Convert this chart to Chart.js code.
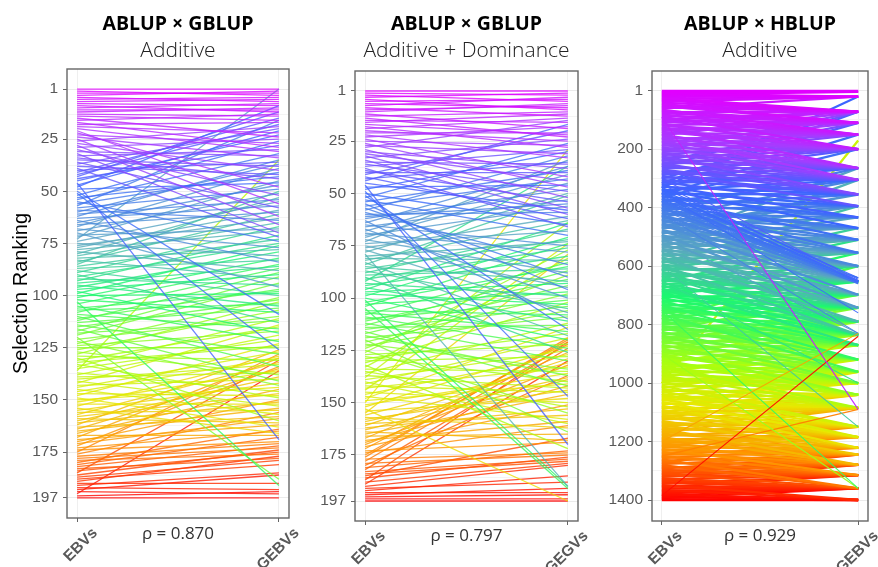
<!DOCTYPE html>
<html>
<head>
<meta charset="utf-8">
<style>
html, body { margin: 0; padding: 0; background: #fff; }
body { width: 878px; height: 567px; position: relative; overflow: hidden; }
canvas { position: absolute; top: 0; }
</style>
<script src="https://cdn.jsdelivr.net/npm/chart.js@4/dist/chart.umd.min.js"></script>
</head>
<body>
<canvas id="chart1" width="310" height="567" style="left:0"></canvas>
<canvas id="chart2" width="305" height="567" style="left:305px"></canvas>
<canvas id="chart3" width="273" height="567" style="left:605px"></canvas>
<script>
// ranks: left axis rank -> right axis rank
var ebv197 = [
	1,2,3,4,5,6,7,8,9,10,11,12,13,14,15,16,17,18,19,20,
	21,22,23,24,25,26,27,28,29,30,31,32,33,34,35,36,37,38,39,40,
	41,42,43,44,45,46,47,48,49,50,51,52,53,54,55,56,57,58,59,60,
	61,62,63,64,65,66,67,68,69,70,71,72,73,74,75,76,77,78,79,80,
	81,82,83,84,85,86,87,88,89,90,91,92,93,94,95,96,97,98,99,100,
	101,102,103,104,105,106,107,108,109,110,111,112,113,114,115,116,117,118,119,120,
	121,122,123,124,125,126,127,128,129,130,131,132,133,134,135,136,137,138,139,140,
	141,142,143,144,145,146,147,148,149,150,151,152,153,154,155,156,157,158,159,160,
	161,162,163,164,165,166,167,168,169,170,171,172,173,174,175,176,177,178,179,180,
	181,182,183,184,185,186,187,188,189,190,191,192,193,194,195,196,197
];

var gebvAdditive = [
	1,4,3,2,7,5,6,9,12,8,
	11,10,14,16,24,13,29,17,22,31,
	56,48,27,34,62,19,40,66,25,52,
	33,70,30,44,38,58,20,42,72,36,
	15,18,12,28,23,169,21,9,46,109,
	126,26,43,32,74,41,16,49,64,37,
	54,35,57,84,47,60,39,77,51,96,
	68,45,1,55,81,63,59,69,88,53,
	65,78,92,61,50,73,83,100,67,113,
	75,95,71,86,105,79,90,118,76,99,
	82,108,191,85,122,98,104,87,116,134,
	97,89,106,128,102,141,91,112,94,188,
	110,143,101,117,125,107,138,103,131,160,
	115,124,149,111,121,35,146,119,137,133,
	153,114,140,127,157,130,148,123,163,144,
	136,152,129,166,142,155,132,147,161,139,
	151,126,158,135,154,145,167,130,162,150,
	159,134,165,170,128,156,171,173,176,164,
	168,172,178,175,131,174,179,181,177,190,
	185,193,186,195,136,194,197
];

var gegvDominance = [
	1,3,6,2,10,5,9,4,13,8,
	7,19,11,23,16,12,22,28,14,25,
	21,33,18,42,27,47,31,15,52,38,
	44,57,24,60,36,49,29,66,54,40,
	20,62,35,17,58,170,46,30,147,65,
	115,26,70,39,96,43,90,32,84,59,
	55,48,110,37,75,53,100,41,78,56,
	45,88,34,68,95,61,107,50,190,73,
	82,63,118,51,92,72,105,67,86,126,
	76,37,99,80,111,64,93,103,71,120,
	190,85,97,74,191,108,116,83,124,101,
	91,130,87,113,104,142,94,137,109,164,
	98,134,106,89,155,77,122,140,117,128,
	102,172,81,135,152,112,143,64,125,160,
	119,145,133,74,150,127,158,114,141,29,
	136,123,197,148,79,131,162,144,138,156,
	129,153,139,168,146,165,126,159,142,132,
	151,121,169,161,120,119,174,122,175,137,
	173,124,177,178,167,176,121,179,130,180,
	188,185,193,191,194,196,197
];

var ebv1400 = [
	1,5,9,13,17,21,25,29,33,37,41,45,49,53,57,61,65,69,73,77,81,85,89,93,97,
	101,105,109,113,117,121,125,129,133,137,141,145,149,153,157,161,165,169,173,177,181,185,189,193,197,
	201,205,209,213,217,221,225,229,233,237,241,245,249,253,257,261,265,269,273,277,281,285,289,293,297,
	301,305,309,313,317,321,325,329,333,337,341,345,349,353,357,361,365,369,373,377,381,385,389,393,397,
	401,405,409,413,417,421,425,429,433,437,441,445,449,453,457,461,465,469,473,477,481,485,489,493,497,
	501,505,509,513,517,521,525,529,533,537,541,545,549,553,557,561,565,569,573,577,581,585,589,593,597,
	601,605,609,613,617,621,625,629,633,637,641,645,649,653,657,661,665,669,673,677,681,685,689,693,697,
	701,705,709,713,717,721,725,729,733,737,741,745,749,753,757,761,765,769,773,777,781,785,789,793,797,
	801,805,809,813,817,821,825,829,833,837,841,845,849,853,857,861,865,869,873,877,881,885,889,893,897,
	901,905,909,913,917,921,925,929,933,937,941,945,949,953,957,961,965,969,973,977,981,985,989,993,997,
	1001,1005,1009,1013,1017,1021,1025,1029,1033,1037,1041,1045,1049,1053,1057,1061,1065,1069,1073,1077,1081,1085,1089,1093,1097,
	1101,1105,1109,1113,1117,1121,1125,1129,1133,1137,1141,1145,1149,1153,1157,1161,1165,1169,1173,1177,1181,1185,1189,1193,1197,
	1201,1205,1209,1213,1217,1221,1225,1229,1233,1237,1241,1245,1249,1253,1257,1261,1265,1269,1273,1277,1281,1285,1289,1293,1297,
	1301,1305,1309,1313,1317,1321,1325,1329,1333,1337,1341,1345,1349,1353,1357,1361,1365,1369,1373,1377,1381,1385,1389,1393,1397,
	1400
];

var gebvHblup = [
	1,4,20,4,20,20,72,20,72,20,72,110,72,110,72,20,150,110,72,110,150,110,200,150,72,
	110,150,72,200,110,150,265,150,200,110,200,150,265,72,200,305,150,200,265,110,200,265,150,305,200,
	265,72,200,305,265,150,355,200,265,305,110,265,355,200,305,72,265,355,395,305,305,265,200,355,305,
	110,355,305,395,72,265,433,355,20,470,305,395,653,355,150,433,200,510,395,653,305,433,555,355,470,
	653,395,470,265,510,433,653,555,305,470,600,395,510,653,698,433,555,470,355,600,653,510,395,743,555,
	470,600,510,653,265,555,698,433,600,510,653,743,555,305,600,698,510,790,653,555,743,600,395,698,835,
	555,653,743,600,470,698,790,653,835,600,698,743,698,510,790,653,870,743,600,835,698,790,653,653,743,
	790,698,835,555,743,870,653,790,920,698,835,743,790,790,870,698,962,835,743,920,600,790,870,870,835,
	743,870,790,920,835,698,962,870,790,1000,835,920,790,870,962,743,835,1000,920,870,790,962,1040,835,920,
	870,1000,962,790,920,1040,870,1000,835,962,1085,920,1000,920,1040,962,870,1000,1085,920,1040,1000,962,1000,1085,
	170,962,1150,1000,920,1085,1040,1150,962,1185,1000,1085,1040,1085,1150,1000,1185,1085,1040,1222,1150,1085,962,1185,1040,
	1150,1085,1185,1222,1040,1150,1085,1245,1185,1150,1150,1222,1085,1185,1280,1150,1245,1085,1222,1185,1150,1280,1245,1185,1222,
	1222,1185,1245,1280,1150,1222,1315,1245,1185,1280,1222,1245,1315,1280,1222,1360,1245,1315,1280,1245,1360,1315,1280,1245,1315,
	1280,1315,1360,1245,1315,1280,1360,1315,1360,1280,1360,1315,1400,1360,1315,1360,1400,1360,1360,1360,1400,1360,1400,1360,1400,
	1400
];

// thin lines that leave the main bundle in the third panel
var hblupFarLeft = [90, 1385, 1200, 650, 750, 900, 340, 360, 380, 320, 400, 300, 350, 420, 500, 600, 1100, 1250, 330, 370, 390, 410, 430, 440];
var hblupFarRight = [1090, 840, 830, 1000, 1360, 1360, 640, 650, 660, 655, 640, 650, 760, 830, 830, 1150, 1085, 1090, 645, 655, 650, 660, 650, 640];

var ticks197 = [1, 25, 50, 75, 100, 125, 150, 175, 197];
var minorTicks197 = [13, 37.5, 62.5, 87.5, 112.5, 137.5, 162.5, 186];
var ticks1400 = [1, 200, 400, 600, 800, 1000, 1200, 1400];
var minorTicks1400 = [100, 300, 500, 700, 900, 1100, 1300];

var labels1 = ["EBVs", "GEBVs"];
var labels2 = ["EBVs", "GEGVs"];

// rainbow used for the lines, position along the ranking -> colour
var stopPos = [0, 0.12, 0.24, 0.38, 0.5, 0.66, 0.76, 0.88, 1];
var stopRgb = [[225,0,255],[166,60,255],[58,102,255],[90,168,192],[28,248,112],[168,255,16],[232,232,0],[255,144,0],[255,0,0]];

function lineColor(rank, maxRank, alpha) {
	var f = (rank - 1) / (maxRank - 1);
	var i = 0;
	while (i < stopPos.length - 2 && f > stopPos[i + 1]) i++;
	var t = (f - stopPos[i]) / (stopPos[i + 1] - stopPos[i]);
	var a = stopRgb[i], b = stopRgb[i + 1];
	return "rgba(" + Math.round(a[0] + (b[0] - a[0]) * t) + "," + Math.round(a[1] + (b[1] - a[1]) * t) + "," + Math.round(a[2] + (b[2] - a[2]) * t) + "," + alpha + ")";
}

// box all the way round the plot, like theme_bw
var frame = {
	id: "frame",
	afterDraw: function(chart) {
		var c = chart.ctx, a = chart.chartArea;
		c.save();
		c.strokeStyle = "#666";
		c.lineWidth = 1.4;
		c.strokeRect(a.left, a.top, a.right - a.left, a.bottom - a.top);
		c.restore();
	}
};

function addLines(sets, left, right, maxRank, alpha, width) {
	for (var i = 0; i < left.length; i++) {
		sets.push({
			data: [{ x: 0, y: left[i] }, { x: 1, y: right[i] }],
			borderColor: lineColor(left[i], maxRank, alpha),
			borderWidth: width,
			pointRadius: 0,
			tension: 0
		});
	}
}

function drawPanel(id, cfg) {
	var sets = [];
	// chart.js paints the first dataset last, so the far lines go in first
	if (cfg.farLeft) addLines(sets, cfg.farLeft, cfg.farRight, cfg.maxRank, 0.95, 1.1);
	addLines(sets, cfg.left, cfg.right, cfg.maxRank, cfg.alpha, cfg.lineWidth);
	var major = cfg.ticks;
	var allTicks = major.concat(cfg.minor);

	new Chart(document.getElementById(id), {
		type: "line",
		data: { datasets: sets },
		plugins: [frame],
		options: {
			responsive: false,
			animation: false,
			events: [],
			layout: { padding: { top: 0, right: cfg.padRight, left: 0, bottom: 0 } },
			plugins: {
				legend: { display: false },
				tooltip: { enabled: false },
				title: {
					display: true,
					fullSize: false,
					text: cfg.title,
					color: "#000",
					font: { family: "'Open Sans'", size: 19.5, weight: "bold", lineHeight: 1.2 },
					padding: { top: 13, bottom: 2 }
				},
				subtitle: {
					display: true,
					fullSize: false,
					text: cfg.subtitle,
					color: "#222",
					font: { family: "'Open Sans'", size: 21, weight: "300", lineHeight: 1.2 },
					padding: { top: 0, bottom: cfg.subPad }
				}
			},
			scales: {
				x: {
					type: "linear",
					min: -0.05,
					max: 1.05,
					afterBuildTicks: function(s) { s.ticks = [{ value: 0 }, { value: 1 }]; },
					afterFit: function(s) { s.height = cfg.xHeight; },
					border: { display: false },
					grid: { color: "#efefef", tickColor: "#666", tickLength: 4 },
					ticks: {
						autoSkip: false,
						minRotation: 45,
						maxRotation: 45,
						labelOffset: 18,
						padding: 2,
						color: "#595959",
						font: { family: "'Liberation Sans'", size: 15.5, weight: "bold" },
						callback: function(v) { return cfg.labels[v]; }
					},
					title: {
						display: true,
						text: cfg.rho,
						color: "#333",
						font: { family: "'Open Sans'", size: 17, lineHeight: 1.2 },
						padding: { top: 0, bottom: cfg.rhoPad }
					}
				},
				y: {
					type: "linear",
					reverse: true,
					min: cfg.yMin,
					max: cfg.yMax,
					afterBuildTicks: function(s) { s.ticks = allTicks.map(function(v) { return { value: v }; }); },
					afterFit: function(s) { s.width = cfg.yWidth; },
					border: { display: false },
					grid: {
						tickLength: 4,
						color: function(ctx) { return major.indexOf(ctx.tick.value) >= 0 ? "#ebebeb" : "#f4f4f4"; },
						tickColor: function(ctx) { return major.indexOf(ctx.tick.value) >= 0 ? "#666" : "rgba(0,0,0,0)"; }
					},
					ticks: {
						autoSkip: false,
						padding: 5,
						color: "#595959",
						font: { family: "'Liberation Sans'", size: 15.5 },
						callback: function(v) { return major.indexOf(v) >= 0 ? String(v) : ""; }
					},
					title: cfg.yTitle ? {
						display: true,
						text: cfg.yTitle,
						color: "#000",
						font: { family: "'Liberation Sans'", size: 20, lineHeight: 1.2 },
						padding: { top: 9, bottom: 0 }
					} : { display: false }
				}
			}
		}
	});
}

drawPanel("chart1", {
	left: ebv197, right: gebvAdditive, maxRank: 197, alpha: 0.8, lineWidth: 1.3,
	ticks: ticks197, minor: minorTicks197, labels: labels1,
	title: "ABLUP × GBLUP", subtitle: "Additive", rho: "ρ = 0.870",
	yTitle: "Selection Ranking",
	yMin: -8.6, yMax: 206.6, yWidth: 67, xHeight: 49, padRight: 21, subPad: 5.4, rhoPad: 23
});
drawPanel("chart2", {
	left: ebv197, right: gegvDominance, maxRank: 197, alpha: 0.8, lineWidth: 1.3,
	ticks: ticks197, minor: minorTicks197, labels: labels2,
	title: "ABLUP × GBLUP", subtitle: "Additive + Dominance", rho: "ρ = 0.797",
	yMin: -8.56, yMax: 206.56, yWidth: 50, xHeight: 46, padRight: 32, subPad: 7.4, rhoPad: 21
});
drawPanel("chart3", {
	left: ebv1400, right: gebvHblup, maxRank: 1400, alpha: 1, lineWidth: 2.3,
	farLeft: hblupFarLeft, farRight: hblupFarRight,
	ticks: ticks1400, minor: minorTicks1400, labels: labels1,
	title: "ABLUP × HBLUP", subtitle: "Additive", rho: "ρ = 0.929",
	yMin: -67.4, yMax: 1471.8, yWidth: 47, xHeight: 46, padRight: 10, subPad: 7.4, rhoPad: 21
});
</script>
</body>
</html>
